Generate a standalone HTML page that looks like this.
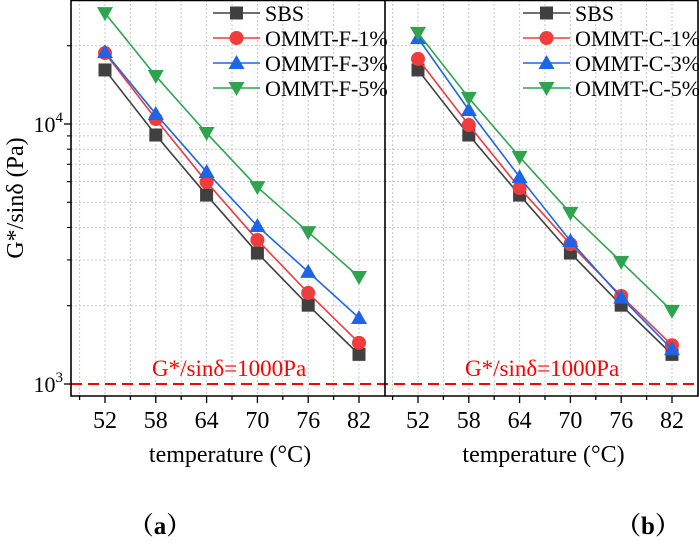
<!DOCTYPE html>
<html><head><meta charset="utf-8"><style>
body{margin:0;background:#fff}
svg{display:block;font-family:"Liberation Serif","Noto Serif CJK SC",serif}
</style></head><body>
<svg id="chart" width="699" height="544" viewBox="0 0 699 544"></svg>
<script>
const temps=[52,58,64,70,76,82];
const sbs=[16140,9070,5330,3190,2010,1300];
const f1=[18750,10450,5980,3580,2240,1440];
const f3=[18900,10920,6540,4050,2700,1795];
const f5=[26700,15300,9230,5720,3840,2580];
const c1=[17800,9910,5670,3450,2180,1410];
const c3=[21400,11320,6250,3550,2150,1360];
const c5=[22400,12600,7470,4550,2950,1910];
const xTicks=[52,58,64,70,76,82];
const namesA=["SBS","OMMT-F-1%","OMMT-F-3%","OMMT-F-5%"];
const namesB=["SBS","OMMT-C-1%","OMMT-C-3%","OMMT-C-5%"];
const colors=["#404040","#f03c3c","#1f64e6","#2ea44f"];
const shapes=["square","circle","up","down"];
const NS="http://www.w3.org/2000/svg";
const svg=document.getElementById('chart');
function mk(t,a,p){const e=document.createElementNS(NS,t);for(const k in a)e.setAttribute(k,a[k]);(p||svg).appendChild(e);return e;}
function y(v){return 384-260*Math.log10(v/1000);}
function marker(s,cx,cy,c,p){
  if(s=='square')return mk('rect',{x:cx-6.5,y:cy-6.5,width:13,height:13,fill:c},p);
  if(s=='circle')return mk('circle',{cx:cx,cy:cy,r:7,fill:c},p);
  if(s=='up')return mk('polygon',{points:`${cx},${cy-8} ${cx+8},${cy+6} ${cx-8},${cy+6}`,fill:c},p);
  return mk('polygon',{points:`${cx},${cy+8} ${cx+8},${cy-6} ${cx-8},${cy-6}`,fill:c},p);
}
const panels=[{x0:71,x1:385,p52:105,data:[sbs,f1,f3,f5],names:namesA,lx:213,rx:152,id:'a'},
{x0:385,x1:698,p52:418,data:[sbs,c1,c3,c5],names:namesB,lx:523,rx:465,id:'b'}];
const plotTop=0,plotBot=396;
panels.forEach(P=>{
  const xs=t=>P.p52+(t-52)*(50.8/6);
  const g=mk('g',{});
  
  
  for(let t=49;t<=85;t+=3){const X=xs(t);if(X<=P.x0+1||X>=P.x1-1)continue;
    mk('line',{x1:X,x2:X,y1:plotTop,y2:plotBot,stroke:'#c8c8c8','stroke-dasharray':'2,2','stroke-width':1},g);}
  [2000,3000,4000,5000,6000,7000,8000,9000,10000,20000].forEach(v=>{
    mk('line',{x1:P.x0,x2:P.x1,y1:y(v),y2:y(v),stroke:'#c8c8c8','stroke-dasharray':'2,2','stroke-width':1},g);});
  for(let t=49;t<=85;t+=3){const X=xs(t);if(X<=P.x0+1||X>=P.x1-1)continue;
    const major=xTicks.includes(t);
    mk('line',{x1:X,x2:X,y1:plotBot,y2:plotBot+(major?7:4),stroke:'#000','stroke-width':1.3},g);}
  xTicks.forEach(t=>{const tx=mk('text',{x:xs(t),y:428,'font-size':24,'text-anchor':'middle'},g);tx.textContent=t;
    });
  const xl=mk('text',{x:(P.x0+P.x1)/2+2,y:462,'font-size':24,'text-anchor':'middle'},g);xl.textContent='temperature (°C)';
  
  const rt=mk('text',{x:P.rx,y:376,'font-size':23,fill:'#f00'},g);rt.textContent='G*/sinδ=1000Pa';
  
  P.data.forEach((d,i)=>{
    const pts=d.map((v,j)=>xs(temps[j])+','+y(v)).join(' ');
    const pl=mk('polyline',{points:pts,fill:'none',stroke:colors[i],'stroke-width':1.6},g);
    
    
    d.forEach((v,j)=>{const m=marker(shapes[i],xs(temps[j]),y(v),colors[i],g);
      
      });
  });
  P.names.forEach((n,i)=>{const ly=13+i*25;
    const lg=mk('g',{},g);
    
    
    mk('line',{x1:P.lx,x2:P.lx+47,y1:ly,y2:ly,stroke:colors[i],'stroke-width':1.6},lg);
    marker(shapes[i],P.lx+23.5,ly,colors[i],lg);
    const t=mk('text',{x:P.lx+52,y:ly+8,'font-size':22},lg);t.textContent=n;});
});
const th=mk('line',{x1:71,x2:699,y1:y(1000),y2:y(1000),stroke:'#f00','stroke-width':2,'stroke-dasharray':'11,6'});


const fr=mk('path',{d:'M71,0 L71,396 L698,396 L698,0 M385,0 L385,396 M71,0.5 L698,0.5',fill:'none',stroke:'#000','stroke-width':1.6});


[1000,10000].forEach(v=>{mk('line',{x1:64,x2:71,y1:y(v),y2:y(v),stroke:'#000','stroke-width':1.3});
  const t=mk('text',{x:63,y:y(v)+8,'font-size':22,'text-anchor':'end'});
  
  
  t.innerHTML='10<tspan dy="-10" font-size="15">'+(v==1000?3:4)+'</tspan>';});
[2000,3000,4000,5000,6000,7000,8000,9000,20000].forEach(v=>mk('line',{x1:67,x2:71,y1:y(v),y2:y(v),stroke:'#000','stroke-width':1.1}));
const yt=mk('text',{x:0,y:0,'font-size':24,'text-anchor':'middle',transform:'translate(23,198) rotate(-90)'});
yt.textContent='G*/sinδ (Pa)';


const la=mk('text',{x:160,y:534,'font-size':25,'font-weight':'bold','text-anchor':'middle'});la.textContent='（a）';


const lb=mk('text',{x:648,y:534,'font-size':25,'font-weight':'bold','text-anchor':'middle'});lb.textContent='（b）';


</script>
</body></html>
